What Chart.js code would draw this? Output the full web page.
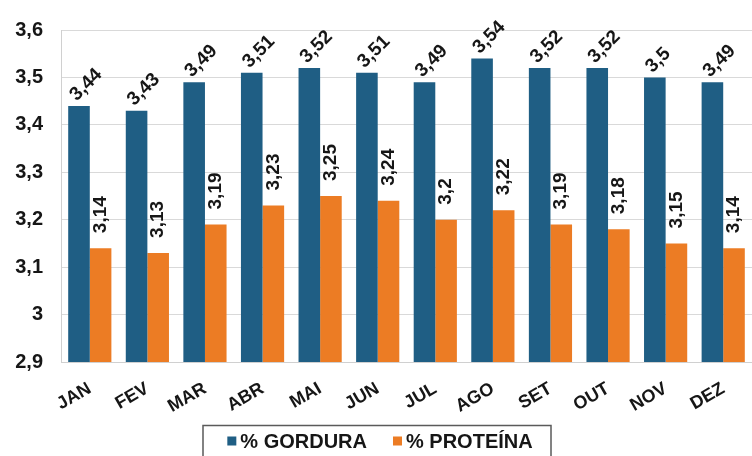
<!DOCTYPE html>
<html>
<head>
<meta charset="utf-8">
<script src="https://cdn.jsdelivr.net/npm/chart.js@4.4.1/dist/chart.umd.min.js"></script>
<style>
  html, body { margin: 0; padding: 0; background: #ffffff; }
  #wrap { width: 752px; height: 456px; }
</style>
</head>
<body>
<div id="wrap"><canvas id="c" width="752" height="456"></canvas></div>
<script>
const months = ['JAN','FEV','MAR','ABR','MAI','JUN','JUL','AGO','SET','OUT','NOV','DEZ'];
const gordura = [3.44, 3.43, 3.49, 3.51, 3.52, 3.51, 3.49, 3.54, 3.52, 3.52, 3.50, 3.49];
const proteina = [3.14, 3.13, 3.19, 3.23, 3.25, 3.24, 3.20, 3.22, 3.19, 3.18, 3.15, 3.14];
const seriesNames = ['% GORDURA', '% PROTEÍNA'];
const seriesColors = ['#1F5E84', '#EC7C24'];
const yMin = 2.9, yMax = 3.6, yStep = 0.1;

const FONT = 'Liberation Sans, Arial, sans-serif';
const TXT = '#161616';
const fmt = v => String(Math.round(v * 100) / 100).replace('.', ',');

const labelsPlugin = {
  id: 'valueLabels',
  afterDatasetsDraw(chart) {
    const ctx = chart.ctx;
    ctx.save();
    ctx.fillStyle = TXT;
    ctx.font = 'bold 19px ' + FONT;
    chart.data.datasets.forEach((ds, di) => {
      const meta = chart.getDatasetMeta(di);
      meta.data.forEach((bar, i) => {
        const txt = fmt(ds.data[i]);
        ctx.save();
        if (di === 0) {
          ctx.translate(bar.x - 6, bar.y - 8);
          ctx.rotate(-45 * Math.PI / 180);
        } else {
          ctx.translate(bar.x, bar.y - 15);
          ctx.rotate(-Math.PI / 2);
        }
        ctx.textAlign = 'left';
        ctx.textBaseline = 'middle';
        ctx.fillText(txt, 0, 0);
        ctx.restore();
      });
    });
    ctx.restore();
  }
};

const legendPlugin = {
  id: 'boxLegend',
  afterDraw(chart) {
    const ctx = chart.ctx;
    ctx.save();
    ctx.font = 'bold 20px ' + FONT;
    const sq = 9, gapSq = 4, gapItems = 26;
    const widths = chart.data.datasets.map(d => ctx.measureText(d.label).width);
    const total = widths.reduce((a, w) => a + sq + gapSq + w, 0) + gapItems * (widths.length - 1);
    const cx = 380, cy = 441;
    ctx.strokeStyle = '#5a5a5a';
    ctx.lineWidth = 1.5;
    ctx.strokeRect(203, 425.5, 348, 40);
    let x = cx - total / 2;
    chart.data.datasets.forEach((d, i) => {
      ctx.fillStyle = d.backgroundColor;
      ctx.fillRect(x, cy - sq / 2, sq, sq);
      x += sq + gapSq;
      ctx.fillStyle = TXT;
      ctx.textAlign = 'left';
      ctx.textBaseline = 'middle';
      ctx.fillText(d.label, x, cy + 1);
      x += widths[i] + gapItems;
    });
    ctx.restore();
  }
};

new Chart(document.getElementById('c'), {
  type: 'bar',
  data: {
    labels: months,
    datasets: [
      { label: seriesNames[0], data: gordura, backgroundColor: seriesColors[0] },
      { label: seriesNames[1], data: proteina, backgroundColor: seriesColors[1] }
    ]
  },
  options: {
    responsive: false,
    animation: false,
    devicePixelRatio: 1,
    layout: { padding: { top: 28, right: 0, bottom: 0, left: 0 } },
    datasets: { bar: { categoryPercentage: 0.75, barPercentage: 1.0 } },
    plugins: {
      legend: { display: false },
      tooltip: { enabled: false }
    },
    scales: {
      x: {
        grid: { display: false, drawTicks: false },
        border: { display: true, color: '#d0d0d0', width: 1 },
        ticks: {
          color: TXT,
          font: { family: FONT, size: 18, weight: 'bold' },
          minRotation: 30, maxRotation: 30,
          padding: 16,
          autoSkip: false
        },
        afterFit(scale) { scale.height = 94; }
      },
      y: {
        min: yMin, max: yMax,
        grid: { color: '#d9d9d9', lineWidth: 1, drawTicks: false },
        border: { display: true, color: '#d0d0d0', width: 1 },
        ticks: {
          stepSize: yStep,
          color: TXT,
          font: { family: FONT, size: 20, weight: 'bold' },
          padding: 18,
          callback: v => fmt(v)
        },
        afterFit(scale) { scale.width = 61; }
      }
    }
  },
  plugins: [labelsPlugin, legendPlugin]
});
</script>
</body>
</html>
